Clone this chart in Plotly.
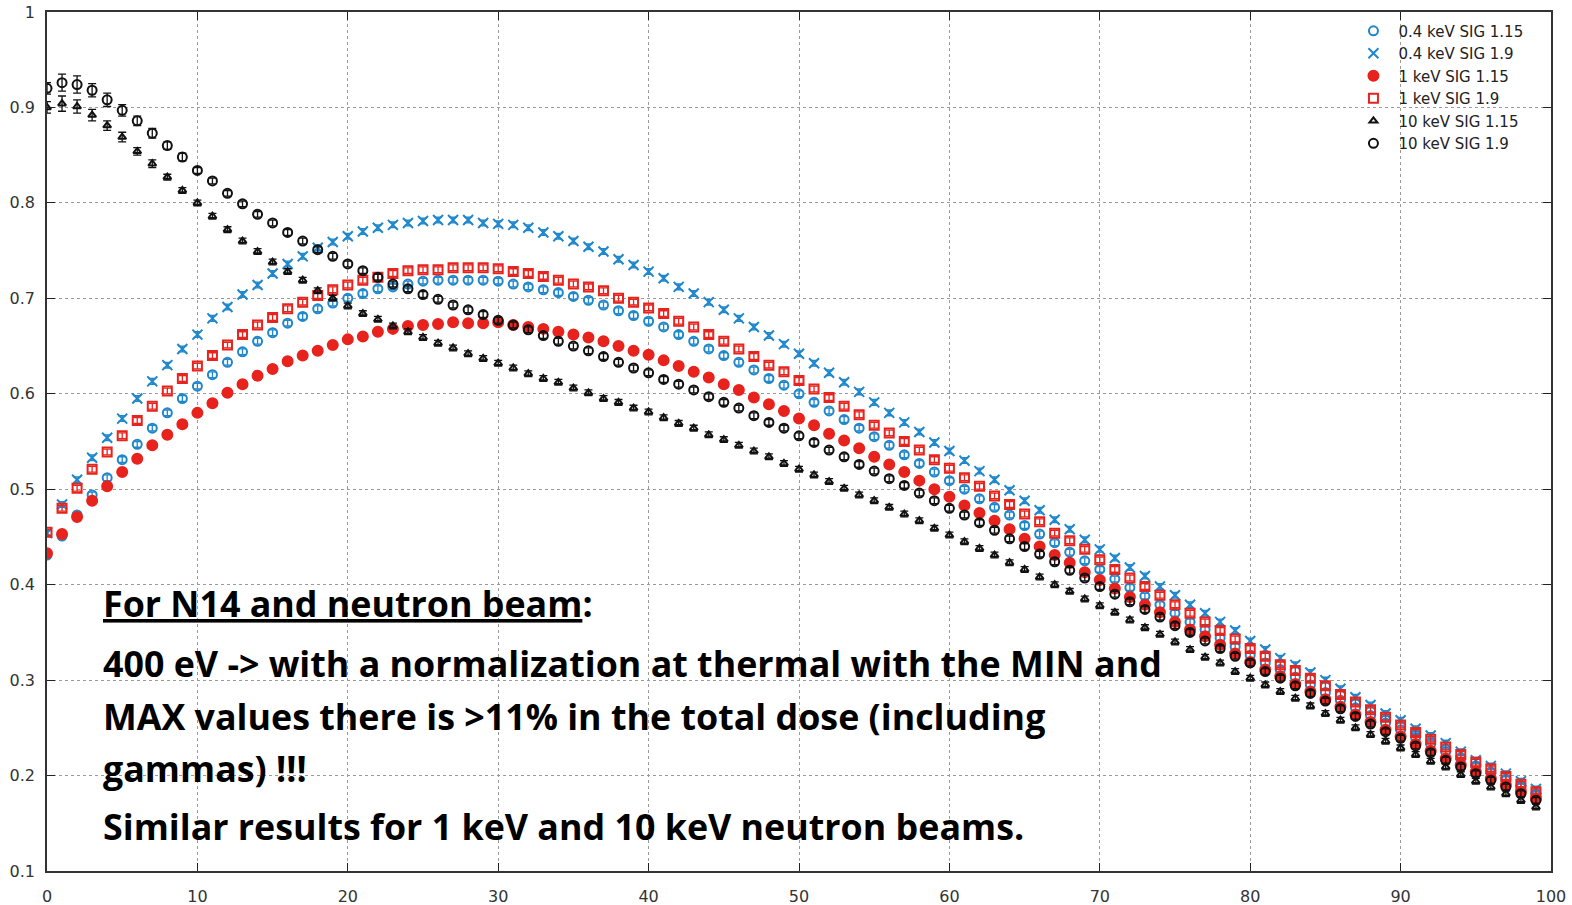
import plotly.graph_objects as go

depth = list(range(100))

s04_115 = [0.431,0.451,0.473,0.494,0.512,0.531,0.547,0.564,0.580,0.595,0.608,0.620,0.633,0.644,0.655,0.664,0.674,0.681,0.689,0.695,
           0.700,0.705,0.710,0.712,0.715,0.718,0.719,0.719,0.719,0.719,0.718,0.715,0.712,0.709,0.706,0.702,0.698,0.693,0.687,0.682,
           0.676,0.670,0.662,0.655,0.647,0.640,0.633,0.625,0.616,0.609,0.600,0.591,0.582,0.573,0.564,0.555,0.546,0.536,0.527,0.518,
           0.509,0.500,0.490,0.481,0.473,0.462,0.453,0.444,0.434,0.425,0.416,0.406,0.397,0.388,0.379,0.370,0.361,0.353,0.344,0.335,
           0.326,0.318,0.311,0.303,0.295,0.287,0.279,0.271,0.263,0.255,0.248,0.240,0.233,0.225,0.218,0.210,0.203,0.196,0.189,0.181]
s04_19 = [0.454,0.484,0.510,0.533,0.554,0.574,0.595,0.613,0.630,0.647,0.662,0.679,0.691,0.704,0.714,0.726,0.736,0.744,0.753,0.759,
          0.765,0.770,0.774,0.777,0.779,0.781,0.782,0.782,0.782,0.779,0.778,0.777,0.774,0.769,0.765,0.760,0.754,0.749,0.741,0.735,
          0.728,0.721,0.712,0.705,0.696,0.688,0.679,0.670,0.661,0.652,0.642,0.632,0.622,0.612,0.602,0.591,0.580,0.570,0.560,0.549,
          0.540,0.530,0.519,0.510,0.499,0.488,0.478,0.468,0.458,0.447,0.437,0.428,0.418,0.409,0.398,0.389,0.379,0.370,0.361,0.352,
          0.341,0.332,0.323,0.316,0.308,0.300,0.291,0.282,0.274,0.265,0.258,0.249,0.242,0.234,0.225,0.216,0.210,0.202,0.194,0.186]
s1_115 = [0.433,0.453,0.471,0.488,0.503,0.518,0.532,0.546,0.557,0.568,0.580,0.590,0.601,0.610,0.619,0.626,0.634,0.640,0.645,0.651,
          0.657,0.660,0.665,0.668,0.671,0.672,0.673,0.675,0.674,0.674,0.675,0.672,0.670,0.668,0.665,0.662,0.659,0.655,0.650,0.645,
          0.641,0.635,0.629,0.623,0.617,0.610,0.604,0.596,0.589,0.582,0.574,0.567,0.558,0.551,0.543,0.534,0.526,0.518,0.509,0.500,
          0.492,0.483,0.475,0.467,0.458,0.448,0.440,0.431,0.423,0.413,0.405,0.396,0.387,0.379,0.371,0.361,0.353,0.346,0.337,0.328,
          0.319,0.311,0.304,0.296,0.288,0.280,0.272,0.264,0.256,0.248,0.241,0.233,0.226,0.218,0.211,0.204,0.197,0.190,0.183,0.176]
s1_19 = [0.455,0.480,0.501,0.521,0.539,0.556,0.572,0.587,0.603,0.616,0.629,0.640,0.651,0.662,0.672,0.680,0.689,0.696,0.703,0.709,
         0.714,0.719,0.722,0.726,0.729,0.730,0.730,0.732,0.732,0.732,0.731,0.728,0.726,0.723,0.719,0.715,0.712,0.708,0.700,0.696,
         0.690,0.684,0.676,0.670,0.662,0.655,0.647,0.639,0.630,0.623,0.614,0.605,0.596,0.587,0.578,0.567,0.559,0.550,0.541,0.531,
         0.522,0.512,0.503,0.493,0.484,0.474,0.466,0.454,0.446,0.437,0.426,0.416,0.407,0.398,0.389,0.379,0.370,0.361,0.352,0.343,
         0.333,0.325,0.316,0.310,0.302,0.294,0.285,0.277,0.269,0.261,0.253,0.245,0.238,0.230,0.222,0.214,0.207,0.199,0.191,0.183]
s10_115 = [0.900,0.904,0.901,0.892,0.881,0.869,0.854,0.841,0.827,0.813,0.800,0.786,0.772,0.760,0.749,0.738,0.728,0.719,0.708,0.700,
           0.692,0.684,0.678,0.671,0.665,0.659,0.653,0.648,0.642,0.637,0.632,0.627,0.621,0.616,0.612,0.606,0.601,0.595,0.591,0.585,
           0.581,0.575,0.569,0.564,0.557,0.552,0.546,0.540,0.534,0.527,0.521,0.515,0.508,0.501,0.494,0.488,0.481,0.474,0.467,0.459,
           0.452,0.445,0.438,0.431,0.423,0.416,0.408,0.400,0.393,0.385,0.378,0.371,0.363,0.355,0.348,0.340,0.332,0.324,0.318,0.309,
           0.302,0.295,0.288,0.281,0.273,0.265,0.258,0.250,0.243,0.236,0.229,0.222,0.215,0.209,0.201,0.194,0.188,0.181,0.174,0.167]
s10_19 = [0.920,0.926,0.924,0.918,0.908,0.897,0.886,0.873,0.860,0.848,0.834,0.823,0.810,0.799,0.788,0.779,0.769,0.760,0.751,0.744,
          0.736,0.729,0.722,0.715,0.710,0.704,0.699,0.693,0.688,0.683,0.677,0.672,0.667,0.661,0.655,0.650,0.645,0.639,0.633,0.627,
          0.622,0.615,0.610,0.604,0.597,0.591,0.585,0.577,0.570,0.564,0.556,0.549,0.541,0.534,0.526,0.519,0.511,0.504,0.496,0.488,
          0.480,0.473,0.465,0.457,0.448,0.440,0.432,0.424,0.415,0.407,0.398,0.390,0.382,0.374,0.366,0.357,0.350,0.341,0.333,0.325,
          0.318,0.309,0.302,0.294,0.286,0.278,0.270,0.262,0.254,0.246,0.239,0.231,0.224,0.216,0.209,0.202,0.195,0.188,0.181,0.174]

err_base = 0.003
err_10_115_head = [0.006, 0.008, 0.007, 0.006, 0.005, 0.005, 0.004, 0.004]
err_10_19_head = [0.006, 0.009, 0.009, 0.007, 0.007, 0.006, 0.005, 0.005, 0.004, 0.004]

names = ["0.4 keV SIG 1.15", "0.4 keV SIG 1.9", "1 keV SIG 1.15", "1 keV SIG 1.9", "10 keV SIG 1.15", "10 keV SIG 1.9"]

BLUE = "#1f87cc"
RED = "#e8221c"
BLACK = "#111111"

def err_list(head):
    return head + [err_base] * (len(depth) - len(head))

series = [
    (names[0], s04_115, BLUE, "circle-open", 9, [err_base] * len(depth)),
    (names[1], s04_19, BLUE, "x-thin-open", 10, [err_base] * len(depth)),
    (names[2], s1_115, RED, "circle", 10, [err_base] * len(depth)),
    (names[3], s1_19, RED, "square-open", 9, [err_base] * len(depth)),
    (names[4], s10_115, BLACK, "triangle-up-open", 7, err_list(err_10_115_head)),
    (names[5], s10_19, BLACK, "circle-open", 9, err_list(err_10_19_head)),
]

fig = go.Figure()
for name, vals, col, sym, size, err in series:
    fig.add_trace(go.Scatter(
        x=depth, y=vals, name=name, mode="markers",
        marker=dict(symbol=sym, size=size, color=col, line=dict(color=col, width=2)),
        error_y=dict(type="data", array=err, visible=True, color=col, thickness=1.3, width=4),
    ))

tick_font = dict(family="DejaVu Sans", size=16, color="#333")
fig.update_xaxes(
    range=[0, 100], tickvals=[0, 10, 20, 30, 40, 50, 60, 70, 80, 90, 100],
    ticks="inside", ticklen=8, tickwidth=1.2, tickcolor="#222",
    showline=True, linecolor="#333", linewidth=1.5, mirror="allticks",
    showgrid=True, gridcolor="#9a9a9a", griddash="dot", gridwidth=1,
    zeroline=False, tickfont=tick_font, automargin=False, ticklabelstandoff=10,
)
yt = [0.1, 0.2, 0.3, 0.4, 0.5, 0.6, 0.7, 0.8, 0.9, 1.0]
yt_text = ["0.1", "0.2", "0.3", "0.4", "0.5", "0.6", "0.7", "0.8", "0.9", "1"]
fig.update_yaxes(
    range=[0.1, 1.0], tickvals=yt, ticktext=yt_text,
    ticks="inside", ticklen=8, tickwidth=1.2, tickcolor="#222",
    showline=True, linecolor="#333", linewidth=1.5, mirror="allticks",
    showgrid=True, gridcolor="#9a9a9a", griddash="dot", gridwidth=1,
    zeroline=False, tickfont=tick_font, automargin=False, ticklabelstandoff=7,
)

text_lines = [
    ("<u>For N14 and neutron beam</u>:", 0.312),
    ("400 eV -> with a normalization at thermal with the MIN and", 0.242),
    ("MAX values there is >11% in the total dose (including", 0.181),
    ("gammas) !!!", 0.120),
    ("Similar results for 1 keV and 10 keV neutron beams.", 0.052),
]
for txt, yy in text_lines:
    fig.add_annotation(
        x=0.0359, y=yy, xref="paper", yref="paper", text=txt, showarrow=False,
        xanchor="left", yanchor="middle",
        font=dict(family="Open Sans", size=35.8, color="black", weight="bold"),
    )

fig.update_layout(
    width=1572, height=905,
    margin=dict(l=47, r=21, t=12, b=34, autoexpand=False),
    paper_bgcolor="white", plot_bgcolor="white",
    showlegend=True,
    legend=dict(x=0.985, y=0.997, xanchor="right", yanchor="top",
                bgcolor="rgba(255,255,255,0)", borderwidth=0,
                font=dict(family="DejaVu Sans", size=15, color="#222"),
                tracegroupgap=0, itemwidth=40),
)

fig.write_html("out.html")
